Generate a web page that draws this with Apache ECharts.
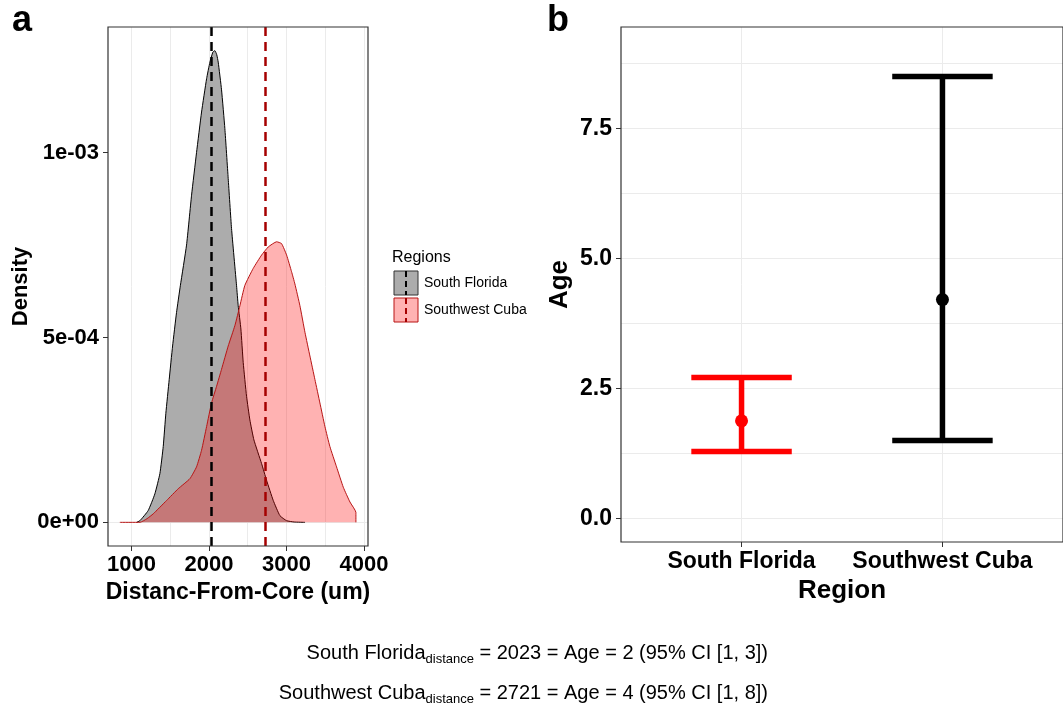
<!DOCTYPE html>
<html>
<head>
<meta charset="utf-8">
<script src="https://cdn.jsdelivr.net/npm/echarts@6/dist/echarts.min.js"></script>
<style>
  html, body { margin: 0; padding: 0; background: #fff; }
  #chart { width: 1063px; height: 708px; }
</style>
</head>
<body>
<div id="chart"></div>
<script>
// panel a: density of distance-from-core
const floridaDistance = [1065, 1108, 1215, 1301, 1366, 1409, 1443, 1486, 1530, 1581, 1630, 1710, 1775, 1839, 1904, 1969, 2012, 2050, 2076, 2100, 2119, 2162, 2205, 2248, 2291, 2356, 2377, 2412, 2442, 2485, 2528, 2580, 2679, 2743, 2830, 2916, 3002, 3100, 3240];
const floridaDensity = [0, 4.5e-6, 3.2e-5, 7.7e-5, 1.32e-4, 2.05e-4, 2.95e-4, 3.86e-4, 4.77e-4, 5.68e-4, 6.4e-4, 7.5e-4, 8.85e-4, 1.0e-3, 1.11e-3, 1.2e-3, 1.245e-3, 1.272e-3, 1.276e-3, 1.265e-3, 1.245e-3, 1.17e-3, 1.065e-3, 9.3e-4, 7.95e-4, 6.4e-4, 5.86e-4, 5.23e-4, 4.32e-4, 3.41e-4, 2.77e-4, 2.23e-4, 1.59e-4, 1.14e-4, 5.9e-5, 1.8e-5, 4.5e-6, 1e-6, 0];
const cubaDistance = [849, 1108, 1200, 1280, 1452, 1603, 1753, 1839, 1904, 1969, 2033, 2098, 2162, 2248, 2334, 2399, 2463, 2571, 2679, 2765, 2873, 2937, 3002, 3066, 3109, 3174, 3239, 3303, 3368, 3432, 3497, 3561, 3647, 3734, 3820, 3897, 3897];
const cubaDensity = [0, 0, 1e-5, 2.3e-5, 5.9e-5, 9.1e-5, 1.18e-4, 1.5e-4, 1.95e-4, 2.59e-4, 3.23e-4, 3.68e-4, 4.14e-4, 4.77e-4, 5.32e-4, 5.86e-4, 6.41e-4, 6.87e-4, 7.23e-4, 7.45e-4, 7.59e-4, 7.54e-4, 7.23e-4, 6.78e-4, 6.45e-4, 5.86e-4, 5.14e-4, 4.5e-4, 3.86e-4, 3.23e-4, 2.59e-4, 2.05e-4, 1.5e-4, 9.5e-5, 5.5e-5, 2.7e-5, 0];
const floridaMeanDistance = 2023;
const cubaMeanDistance = 2721;
const distanceTicks = [1000, 2000, 3000, 4000];
const distanceGrid = [1000, 1500, 2000, 2500, 3000, 3500, 4000];
const densityTicks = [0, 0.0005, 0.001];
const densityGrid = [0, 0.00025, 0.0005, 0.00075, 0.001, 0.00125];

// panel b: estimated age with 95% CI
const regions = ['South Florida', 'Southwest Cuba'];
const ageMean = [1.88, 4.21];
const ageLow = [1.29, 1.5];
const ageHigh = [2.71, 8.5];
const ageTicks = [0, 2.5, 5, 7.5];
const ageGrid = [0, 1.25, 2.5, 3.75, 5, 6.25, 7.5, 8.75];

const FONT = '"Liberation Sans", Arial, sans-serif';
const regionColors = ['#ff0000', '#000000'];

function sci(v) {
  if (v === 0) return '0e+00';
  return v.toExponential(0).replace(/e([+-])(\d)$/, 'e$10$2');
}

function gridLines(xi, xs, ys) {
  return {
    type: 'line', xAxisIndex: xi, yAxisIndex: xi, data: [], silent: true, z: 0,
    markLine: {
      z: 0, silent: true, symbol: ['none', 'none'], label: { show: false },
      lineStyle: { color: '#ebebeb', width: 1, type: 'solid' },
      emphasis: { disabled: true },
      data: xs.map(v => ({ xAxis: v })).concat(ys.map(v => ({ yAxis: v })))
    }
  };
}

function renderErrorBar(params, api) {
  const x = api.value(0);
  const low = api.coord([x, api.value(1)]);
  const high = api.coord([x, api.value(2)]);
  const half = api.size([0.25, 0])[0];
  const style = { stroke: regionColors[params.dataIndex], lineWidth: 5.5 };
  return {
    type: 'group',
    children: [
      { type: 'line', shape: { x1: low[0], y1: low[1], x2: high[0], y2: high[1] }, style: style },
      { type: 'line', shape: { x1: low[0] - half, y1: low[1], x2: low[0] + half, y2: low[1] }, style: style },
      { type: 'line', shape: { x1: high[0] - half, y1: high[1], x2: high[0] + half, y2: high[1] }, style: style }
    ]
  };
}

const tickStyle = { show: true, length: 5, lineStyle: { color: '#333', width: 1 } };
const noLine = { show: false, onZero: false };

const chart = echarts.init(document.getElementById('chart'), null, { renderer: 'canvas' });

chart.setOption({
  animation: false,
  backgroundColor: '#fff',
  textStyle: { fontFamily: FONT },
  grid: [
    { left: 108, top: 27, width: 260, height: 519, show: true, borderColor: '#333', borderWidth: 1.2, backgroundColor: 'transparent', z: 20 },
    { left: 621, top: 27, width: 447, height: 515, show: true, borderColor: '#333', borderWidth: 1.2, backgroundColor: 'transparent', z: 20 }
  ],
  xAxis: [
    {
      type: 'value', gridIndex: 0, min: 696, max: 4053,
      axisLine: noLine, splitLine: { show: false },
      axisTick: Object.assign({ customValues: distanceTicks }, tickStyle),
      axisLabel: { customValues: distanceTicks, formatter: v => String(v), margin: 8, color: '#000', fontWeight: 'bold', fontSize: 22, fontFamily: FONT },
      name: 'Distanc-From-Core (um)', nameLocation: 'middle', nameGap: 33,
      nameTextStyle: { color: '#000', fontWeight: 'bold', fontSize: 23, fontFamily: FONT }
    },
    {
      type: 'value', gridIndex: 1, min: 0.4, max: 2.6,
      axisLine: noLine, splitLine: { show: false },
      axisTick: Object.assign({ customValues: [1, 2] }, tickStyle),
      axisLabel: { customValues: [1, 2], formatter: v => regions[Math.round(v) - 1], margin: 8, color: '#000', fontWeight: 'bold', fontSize: 23, fontFamily: FONT },
      name: 'Region', nameLocation: 'middle', nameGap: 33,
      nameTextStyle: { color: '#000', fontWeight: 'bold', fontSize: 26, fontFamily: FONT }
    }
  ],
  yAxis: [
    {
      type: 'value', gridIndex: 0, min: -0.000064, max: 0.00134,
      axisLine: noLine, splitLine: { show: false },
      axisTick: Object.assign({ customValues: densityTicks }, tickStyle),
      axisLabel: { customValues: densityTicks, formatter: sci, margin: 9, color: '#000', fontWeight: 'bold', fontSize: 22, fontFamily: FONT },
      name: 'Density', nameLocation: 'middle', nameGap: 76, nameRotate: 90,
      nameTextStyle: { color: '#000', fontWeight: 'bold', fontSize: 22, fontFamily: FONT }
    },
    {
      type: 'value', gridIndex: 1, min: -0.45, max: 9.45,
      axisLine: noLine, splitLine: { show: false },
      axisTick: Object.assign({ customValues: ageTicks }, tickStyle),
      axisLabel: { customValues: ageTicks, formatter: v => v.toFixed(1), margin: 9, color: '#000', fontWeight: 'bold', fontSize: 23, fontFamily: FONT },
      name: 'Age', nameLocation: 'middle', nameGap: 48, nameRotate: 90,
      nameTextStyle: { color: '#000', fontWeight: 'bold', fontSize: 26, fontFamily: FONT }
    }
  ],
  series: [
    gridLines(0, distanceGrid, densityGrid),
    {
      name: 'South Florida', type: 'line', xAxisIndex: 0, yAxisIndex: 0, z: 2,
      data: floridaDistance.map((d, i) => [d, floridaDensity[i]]),
      symbol: 'none', smooth: 0.15,
      lineStyle: { color: '#000', width: 1 },
      areaStyle: { color: '#acacac', opacity: 1 }
    },
    {
      name: 'Southwest Cuba', type: 'line', xAxisIndex: 0, yAxisIndex: 0, z: 3,
      data: cubaDistance.map((d, i) => [d, cubaDensity[i]]),
      symbol: 'none', smooth: 0.15,
      lineStyle: { color: '#b81414', width: 1 },
      areaStyle: { color: 'rgba(255,0,0,0.3)', opacity: 1 }
    },
    {
      type: 'line', xAxisIndex: 0, yAxisIndex: 0, data: [], silent: true, z: 10,
      markLine: {
        z: 10, silent: true, symbol: ['none', 'none'], label: { show: false },
        lineStyle: { width: 2.5, type: [9, 6] },
        data: [
          { xAxis: floridaMeanDistance, lineStyle: { color: '#000' } },
          { xAxis: cubaMeanDistance, lineStyle: { color: '#a50000' } }
        ]
      }
    },
    gridLines(1, [1, 2], ageGrid),
    {
      type: 'custom', xAxisIndex: 1, yAxisIndex: 1, z: 5,
      data: regions.map((r, i) => [i + 1, ageLow[i], ageHigh[i]]),
      encode: { x: 0, y: [1, 2] },
      renderItem: renderErrorBar
    },
    {
      type: 'scatter', xAxisIndex: 1, yAxisIndex: 1, z: 6,
      data: regions.map((r, i) => [i + 1, ageMean[i]]),
      symbolSize: 13,
      itemStyle: { color: p => regionColors[p.dataIndex], opacity: 1 }
    }
  ],
  graphic: [
    { type: 'text', left: 12, top: 3, style: { text: 'a', font: 'bold 36px ' + FONT, fill: '#000' } },
    { type: 'text', left: 547, top: 3, style: { text: 'b', font: 'bold 36px ' + FONT, fill: '#000' } },
    { type: 'text', x: 392, y: 258, style: { text: 'Regions', font: '16px ' + FONT, fill: '#000', verticalAlign: 'middle' } },
    { type: 'rect', shape: { x: 394, y: 271, width: 24, height: 24 }, style: { fill: '#acacac', stroke: '#333', lineWidth: 1 } },
    { type: 'line', shape: { x1: 406, y1: 271, x2: 406, y2: 295 }, style: { stroke: '#000', lineWidth: 2, lineDash: [6, 4] } },
    { type: 'rect', shape: { x: 394, y: 298, width: 24, height: 24 }, style: { fill: 'rgba(255,0,0,0.3)', stroke: '#b81414', lineWidth: 1 } },
    { type: 'line', shape: { x1: 406, y1: 298, x2: 406, y2: 322 }, style: { stroke: '#a50000', lineWidth: 2, lineDash: [6, 4] } },
    { type: 'text', x: 424, y: 283, style: { text: 'South Florida', font: '14px ' + FONT, fill: '#000', verticalAlign: 'middle' } },
    { type: 'text', x: 424, y: 310, style: { text: 'Southwest Cuba', font: '14px ' + FONT, fill: '#000', verticalAlign: 'middle' } },
    {
      type: 'text', x: 768, y: 653,
      style: {
        text: '{m|South Florida}{s|distance}{m| = 2023 = Age = 2 (95% CI [1, 3])}',
        align: 'right', verticalAlign: 'middle',
        rich: {
          m: { fontSize: 20, fontFamily: FONT, fill: '#000', lineHeight: 26, verticalAlign: 'middle' },
          s: { fontSize: 13, fontFamily: FONT, fill: '#000', lineHeight: 26, verticalAlign: 'bottom' }
        }
      }
    },
    {
      type: 'text', x: 768, y: 693,
      style: {
        text: '{m|Southwest Cuba}{s|distance}{m| = 2721 = Age = 4 (95% CI [1, 8])}',
        align: 'right', verticalAlign: 'middle',
        rich: {
          m: { fontSize: 20, fontFamily: FONT, fill: '#000', lineHeight: 26, verticalAlign: 'middle' },
          s: { fontSize: 13, fontFamily: FONT, fill: '#000', lineHeight: 26, verticalAlign: 'bottom' }
        }
      }
    }
  ]
});
</script>
</body>
</html>
